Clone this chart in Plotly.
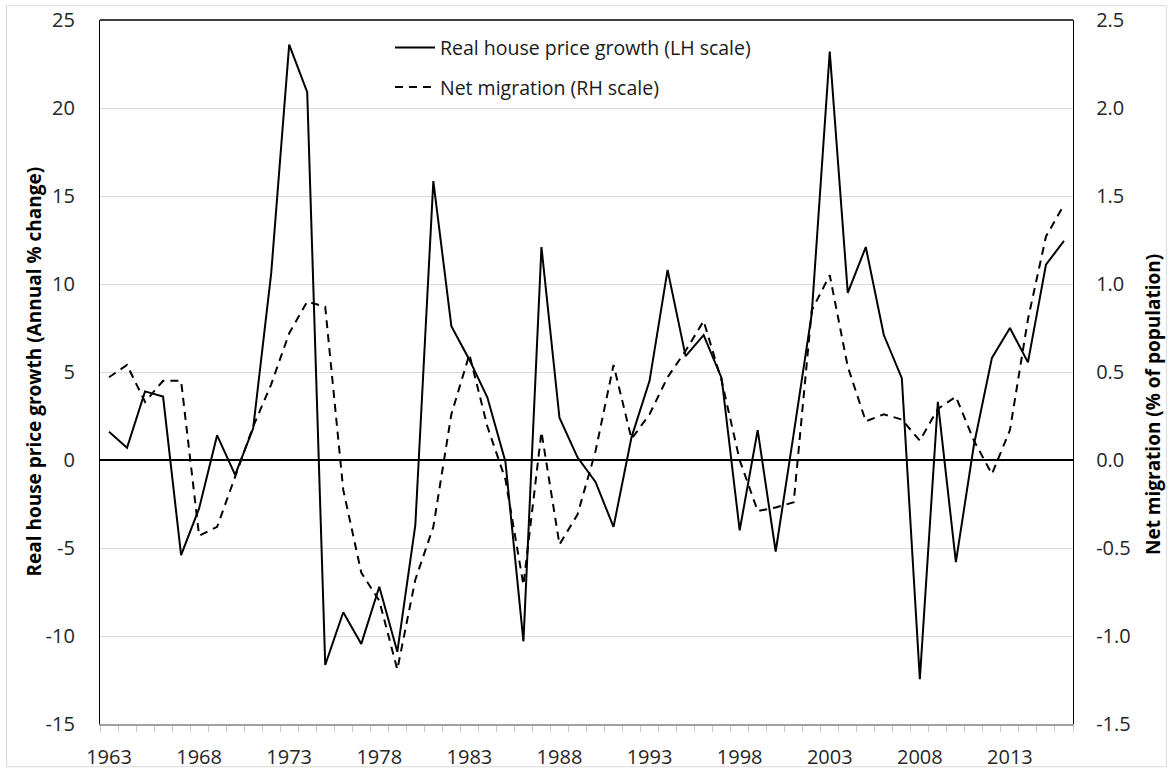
import plotly.graph_objects as go

years = list(range(1963, 2017))

house_price_growth = [
    1.6, 0.7, 3.9, 3.6, -5.4, -2.75, 1.4, -0.85, 1.8, 10.6,
    23.6, 20.9, -11.65, -8.65, -10.45, -7.2, -10.9, -3.7, 15.85, 7.6,
    5.7, 3.55, -0.1, -10.3, 12.1, 2.4, 0.15, -1.25, -3.8, 1.3,
    4.5, 10.8, 5.9, 7.1, 4.65, -4.0, 1.7, -5.2, 1.5, 8.3,
    23.2, 9.5, 12.1, 7.1, 4.65, -12.45, 3.3, -5.8, 0.85, 5.8,
    7.5, 5.55, 11.1, 12.45,
]

net_migration = [
    0.47, 0.54, 0.33, 0.45, 0.45, -0.43, -0.38, -0.10, 0.19, 0.43,
    0.72, 0.90, 0.87, -0.17, -0.64, -0.80, -1.19, -0.68, -0.38, 0.26,
    0.60, 0.19, -0.11, -0.71, 0.16, -0.48, -0.31, 0.05, 0.54, 0.12,
    0.26, 0.47, 0.62, 0.79, 0.45, 0.00, -0.29, -0.27, -0.24, 0.85,
    1.05, 0.53, 0.22, 0.26, 0.23, 0.11, 0.29, 0.36, 0.11, -0.08,
    0.17, 0.80, 1.27, 1.45,
]

x_tick_years = [1963, 1968, 1973, 1978, 1983, 1988, 1993, 1998, 2003, 2008, 2013]
left_ticks = [25, 20, 15, 10, 5, 0, -5, -10, -15]
left_tick_text = ["25", "20", "15", "10", "5", "0", "-5", "-10", "-15"]
right_ticks = [2.5, 2.0, 1.5, 1.0, 0.5, 0.0, -0.5, -1.0, -1.5]
right_tick_text = ["2.5", "2.0", "1.5", "1.0", "0.5", "0.0", "-0.5", "-1.0", "-1.5"]

FONT = "Open Sans, Liberation Sans, Arial, sans-serif"
TICK_COLOR = "#262626"

fig = go.Figure()
fig.add_trace(go.Scatter(
    x=years, y=house_price_growth, mode="lines",
    name="Real house price growth (LH scale)",
    line=dict(color="black", width=2),
    legendgroup="a",
))
fig.add_trace(go.Scatter(
    x=years, y=net_migration, mode="lines",
    name="Net migration (RH scale)",
    line=dict(color="black", width=2, dash="8px,6px"),
    yaxis="y2", legendgroup="b",
))

fig.update_layout(
    width=1171, height=769,
    margin=dict(l=100, r=98, t=20, b=45, autoexpand=False),
    paper_bgcolor="white", plot_bgcolor="white",
    font=dict(family=FONT, size=20, color=TICK_COLOR),
    showlegend=True,
    legend=dict(
        x=0.298, y=0.988, xanchor="left", yanchor="top",
        bgcolor="rgba(0,0,0,0)", font=dict(size=19.5, color="#1a1a1a"),
        tracegroupgap=11, itemwidth=40,
    ),
    xaxis=dict(
        range=[1962.5, 2016.5], tickmode="array", tickvals=x_tick_years,
        ticks="", showgrid=False, zeroline=False, automargin=False,
        showline=True, linecolor="#a0a0a0", linewidth=2,
        ticklabelstandoff=14,
        minor=dict(tick0=1962.5, dtick=1, ticks="outside", ticklen=6,
                   tickcolor="#c8c8c8", tickwidth=1, showgrid=False),
        tickfont=dict(size=20, color=TICK_COLOR),
    ),
    yaxis=dict(
        range=[-15, 25], tickmode="array", tickvals=left_ticks, ticktext=left_tick_text,
        showgrid=True, gridcolor="#d9d9d9", gridwidth=1, automargin=False,
        zeroline=True, zerolinecolor="black", zerolinewidth=2,
        showline=True, linecolor="black", linewidth=1.3,
        ticks="", ticklabelstandoff=20,
        tickfont=dict(size=20, color=TICK_COLOR),
    ),
    yaxis2=dict(
        range=[-1.5, 2.5], overlaying="y", side="right", automargin=False,
        tickmode="array", tickvals=right_ticks, ticktext=right_tick_text,
        showgrid=False, zeroline=False,
        showline=True, linecolor="black", linewidth=1.3,
        ticks="", ticklabelstandoff=18,
        tickfont=dict(size=20, color=TICK_COLOR),
    ),
    shapes=[
        dict(type="line", xref="paper", yref="paper", x0=0, x1=1, y0=1, y1=1,
             line=dict(color="black", width=1.3)),
        dict(type="rect", xref="paper", yref="paper",
             x0=-0.0961, x1=1.0959, y0=-0.0607, y1=1.0203,
             line=dict(color="#d9d9d9", width=1), layer="below"),
    ],
    annotations=[
        dict(text="<b>Real house price growth (Annual % change)</b>", xref="paper", yref="paper",
             x=-0.0683, y=0.5, textangle=-90, showarrow=False, xanchor="center", yanchor="middle",
             font=dict(family=FONT, size=19, color="black")),
        dict(text="<b>Net migration (% of population)</b>", xref="paper", yref="paper",
             x=1.0815, y=0.4535, textangle=-90, showarrow=False, xanchor="center", yanchor="middle",
             font=dict(family=FONT, size=19, color="black")),
    ],
)

fig.write_html("out.html", config={"displayModeBar": False},
               post_script="document.body.style.margin='0';document.body.style.overflow='hidden';")
